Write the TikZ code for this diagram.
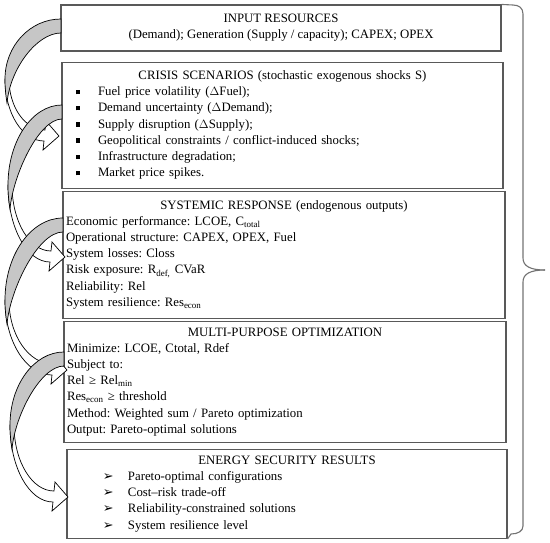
\documentclass[tikz,border=0pt]{standalone}
\usepackage{fontspec}
\setmainfont{Liberation Serif}
\newfontfamily\symfont{DejaVu Sans}
\usetikzlibrary{positioning}
\frenchspacing

% curved block arrow: tail top (#1,#2), leftmost x #3, middle y #4, tip (#5,#6)
\newcommand{\bentarrow}[6]{%
  \pgfmathsetmacro{\arrx}{#1-#3}%
  \pgfmathsetmacro{\arry}{#4-#2}%
  \filldraw[arrowfront] (#3,#4)
    .. controls (#3,{#4+0.552*(#6+5-#4)}) and ({#5-15-0.552*(#5-15-#3)},#6+5) .. (#5-15,#6+5)
    -- (#5-16,#6+14) -- (#5,#6) -- (#5-13,#6-15) -- (#5-14,#6-6)
    .. controls ({#5-14-0.552*(#5-18-#3)},#6-6) and (#3+4,{#4+0.552*(#6-6-#4)}) .. (#3+4,#4)
    -- cycle;
  \filldraw[arrowrear] (#1,#2)
    .. controls ({#1-0.552*\arrx},#2) and (#3,{#4-0.552*\arry}) .. (#3,#4)
    .. controls (#3,#4+10) and (#3+1,#4+18) .. (#3+2,#4+24)
    .. controls (#3+5,#4-10) and ({#1-0.552*(\arrx-12)},#2+14) .. (#1,#2+14)
    -- cycle;
}
\newcommand{\sqitem}{\hspace*{11pt}\makebox[22pt][l]{\rule[1.5pt]{4.5pt}{4.5pt}}}
\newcommand{\arritem}{\hspace*{33pt}\makebox[25pt][l]{{\symfont ➢}}}

\begin{document}
\begin{tikzpicture}[x=1pt, y=-1pt,
  box/.style={rectangle, draw=black!65, line width=1.1pt, inner sep=3pt,
              font=\fontsize{12.8pt}{16.2pt}\selectfont},
  arrowfront/.style={fill=white, draw=black, line width=0.7pt},
  arrowrear/.style={fill=gray!45, draw=black, line width=0.7pt},
  bracestyle/.style={draw=black!55, line width=1.1pt}]

\useasboundingbox (0,0) rectangle (550,542);

% Input resources
\node[box, minimum width=440pt, minimum height=46pt, align=center] (input) at (281,28) {
  INPUT RESOURCES \\
  (Demand); Generation (Supply / capacity); CAPEX; OPEX
};

% Crisis scenarios
\node[box, minimum width=441pt, minimum height=126pt, text width=435pt, align=left,
      below=10pt of input, xshift=1.5pt] (crisis) {
  \makebox[\linewidth]{CRISIS SCENARIOS (stochastic exogenous shocks S)} \\
  \sqitem Fuel price volatility ($\Delta$Fuel); \\
  \sqitem Demand uncertainty ($\Delta$Demand); \\
  \sqitem Supply disruption ($\Delta$Supply); \\
  \sqitem Geopolitical constraints / conflict-induced shocks; \\
  \sqitem Infrastructure degradation; \\
  \sqitem Market price spikes.
};

% Systemic response
\node[box, minimum width=442pt, minimum height=127pt, text width=436pt, align=left,
      below=2pt of crisis, xshift=1.5pt] (response) {
  \makebox[\linewidth]{SYSTEMIC RESPONSE (endogenous outputs)} \\
  Economic performance: LCOE, C\textsubscript{total} \\
  Operational structure: CAPEX, OPEX, Fuel \\
  System losses: Closs \\
  Risk exposure: R\textsubscript{def,} CVaR \\
  Reliability: Rel \\
  System resilience: Res\textsubscript{econ}
};

% Multi-purpose optimization
\node[box, minimum width=442pt, minimum height=121pt, text width=436pt, align=left,
      below=2pt of response, xshift=1pt] (optim) {
  \makebox[\linewidth]{MULTI-PURPOSE OPTIMIZATION} \\
  Minimize: LCOE, Ctotal, Rdef \\
  Subject to: \\
  Rel ≥ Rel\textsubscript{min} \\
  Res\textsubscript{econ} ≥ threshold \\
  Method: Weighted sum / Pareto optimization \\
  Output: Pareto-optimal solutions
};

% Energy security results
\node[box, minimum width=440pt, minimum height=89pt, text width=434pt, align=left,
      below=6pt of optim, xshift=2pt] (result) {
  \makebox[\linewidth]{ENERGY SECURITY RESULTS} \\
  \arritem Pareto-optimal configurations \\
  \arritem Cost--risk trade-off \\
  \arritem Reliability-constrained solutions \\
  \arritem System resilience level
};

% Curved arrows
\bentarrow{61}{19}{5}{79}{59}{136}
\bentarrow{62}{105}{8}{185}{65}{257}
\bentarrow{63}{218}{5}{300}{67}{370}
\bentarrow{64}{352}{10}{425}{68}{497}

% Brace
\draw[bracestyle] (input.north east) -- (513,5) .. controls (519,5) and (523,8) .. (523,14)
  -- (523,258) .. controls (523,266) and (530,270) .. (545,270);
\draw[bracestyle] (545,270) .. controls (530,270) and (523,274) .. (523,282)
  -- (523,526) .. controls (523,531) and (518,534) .. (511,534) -- (result.south east);

\end{tikzpicture}
\end{document}
